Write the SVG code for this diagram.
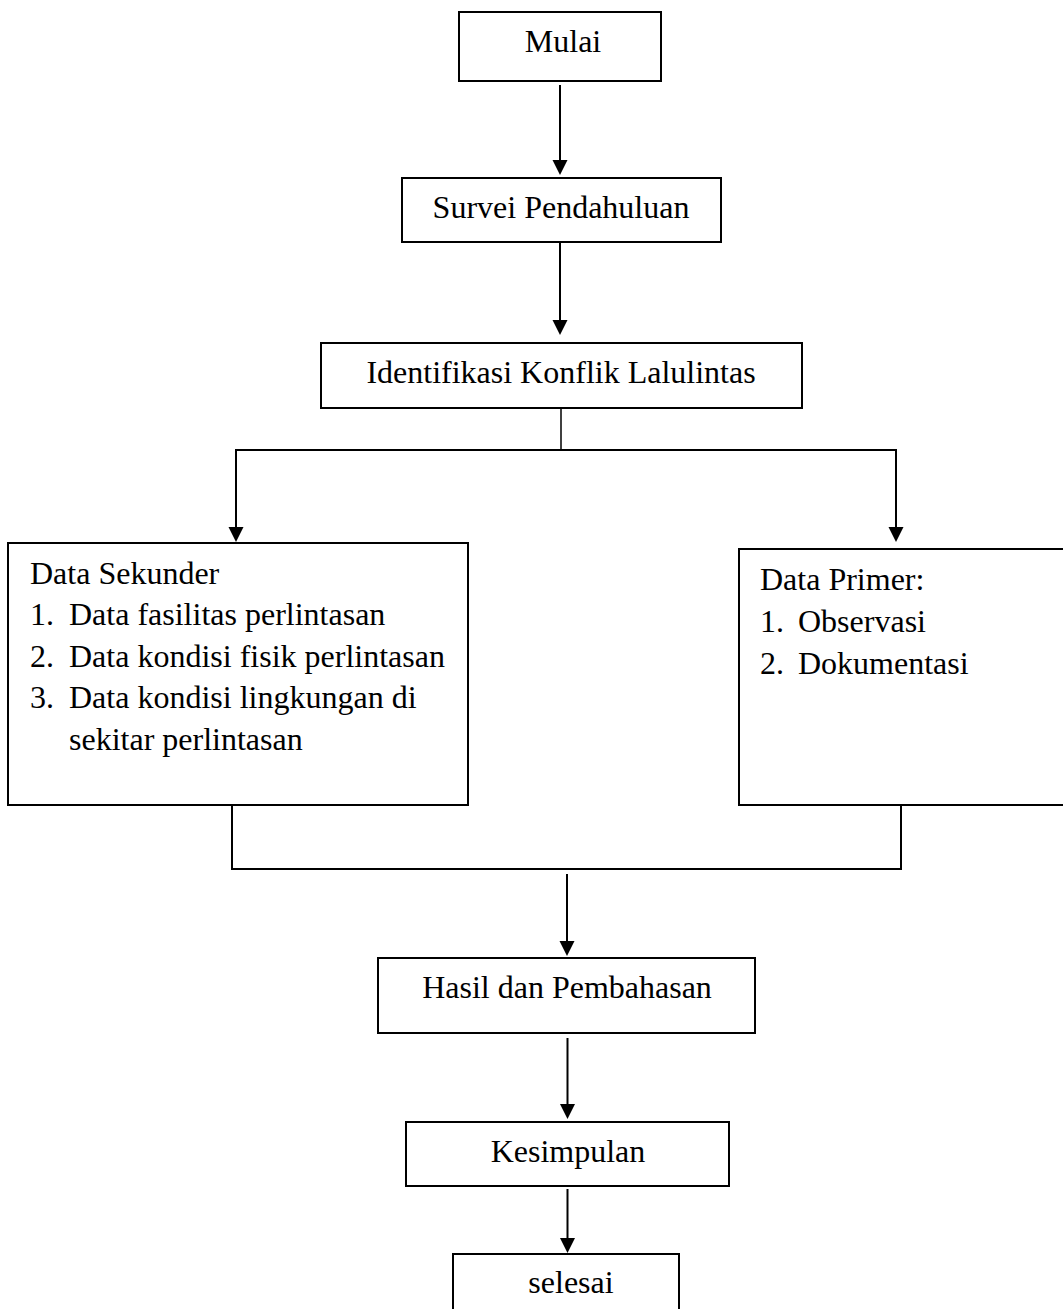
<svg xmlns="http://www.w3.org/2000/svg" width="1063" height="1309" viewBox="0 0 1063 1309">
<style>
.box{fill:#fff;stroke:#000;stroke-width:2}
.ln{fill:none;stroke:#000;stroke-width:2}
.thin{fill:none;stroke:#000;stroke-width:1.5}
.head{fill:#000}
text{font-family:"Liberation Serif","Times New Roman",serif;font-size:32px;fill:#000}
.c{text-anchor:middle}
</style>
<rect width="1063" height="1309" fill="#fff"/>
<g id="connectors">
<line class="ln" x1="560" y1="85" x2="560" y2="162"/>
<polygon class="head" points="552.5,160 567.5,160 560,175"/>
<line class="ln" x1="560" y1="243" x2="560" y2="322"/>
<polygon class="head" points="552.5,320 567.5,320 560,335"/>
<line class="thin" x1="561" y1="408" x2="561" y2="451"/>
<polyline class="ln" points="236,528 236,450 896,450 896,528"/>
<polygon class="head" points="228.5,527 243.5,527 236,542"/>
<polygon class="head" points="888.5,527 903.5,527 896,542"/>
<polyline class="ln" points="232,805 232,869 901,869 901,805"/>
<line class="ln" x1="567" y1="874" x2="567" y2="942"/>
<polygon class="head" points="559.5,941 574.5,941 567,956"/>
<line class="ln" x1="567.5" y1="1038" x2="567.5" y2="1105"/>
<polygon class="head" points="560,1104 575,1104 567.5,1119"/>
<line class="ln" x1="567.5" y1="1189" x2="567.5" y2="1239"/>
<polygon class="head" points="560,1238 575,1238 567.5,1253"/>
</g>
<g id="mulai">
<rect class="box" x="459" y="12" width="202" height="69"/>
<text class="c" x="563" y="52">Mulai</text>
</g>
<g id="survei">
<rect class="box" x="402" y="178" width="319" height="64"/>
<text class="c" x="561" y="218">Survei Pendahuluan</text>
</g>
<g id="identifikasi">
<rect class="box" x="321" y="343" width="481" height="65"/>
<text class="c" x="561" y="383">Identifikasi Konflik Lalulintas</text>
</g>
<g id="data-sekunder">
<rect class="box" x="8" y="543" width="460" height="262"/>
<text x="30" y="584">Data Sekunder</text>
<text x="30" y="625">1.</text><text x="69" y="625">Data fasilitas perlintasan</text>
<text x="30" y="667">2.</text><text x="69" y="667">Data kondisi fisik perlintasan</text>
<text x="30" y="708">3.</text><text x="69" y="708">Data kondisi lingkungan di</text>
<text x="69" y="750">sekitar perlintasan</text>
</g>
<g id="data-primer">
<rect class="box" x="739" y="549" width="340" height="256"/>
<text x="760" y="590">Data Primer:</text>
<text x="760" y="632">1.</text><text x="798" y="632">Observasi</text>
<text x="760" y="674">2.</text><text x="798" y="674">Dokumentasi</text>
</g>
<g id="hasil">
<rect class="box" x="378" y="958" width="377" height="75"/>
<text class="c" x="567" y="998">Hasil dan Pembahasan</text>
</g>
<g id="kesimpulan">
<rect class="box" x="406" y="1122" width="323" height="64"/>
<text class="c" x="568" y="1162">Kesimpulan</text>
</g>
<g id="selesai">
<rect class="box" x="453" y="1254" width="226" height="70"/>
<text class="c" x="571" y="1293">selesai</text>
</g>
</svg>
